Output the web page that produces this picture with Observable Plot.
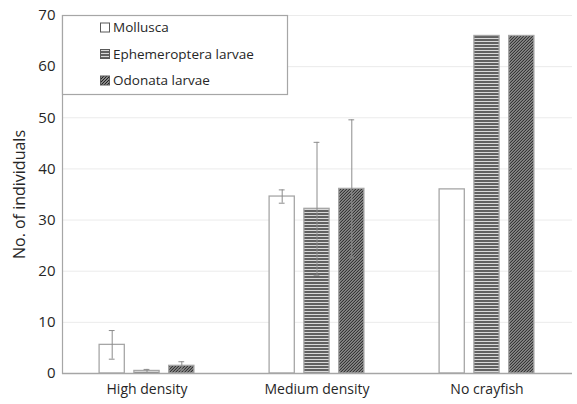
<!DOCTYPE html>
<html>
<head>
<meta charset="utf-8">
<script src="https://cdn.jsdelivr.net/npm/d3@7"></script>
<script src="https://cdn.jsdelivr.net/npm/@observablehq/plot@0.6"></script>
<style>
  html, body { margin: 0; padding: 0; background: white; }
</style>
</head>
<body>
<div id="chart"></div>
<script>
// Treatment groups along the x axis
const groups = ["High density", "Medium density", "No crayfish"];
// Invertebrate taxa (one bar per taxon within each group)
const series = ["Mollusca", "Ephemeroptera larvae", "Odonata larvae"];
// Mean number of individuals per group
const mollusca = [5.6, 34.6, 36];
const ephemeroptera = [0.5, 32.2, 66];
const odonata = [1.5, 36.1, 66];
// Error (± value); null where no error bar is drawn
const molluscaErr = [2.8, 1.3, null];
const ephemeropteraErr = [0.3, 13, null];
const odonataErr = [0.8, 13.5, null];
// y-axis tick labels
const yTicks = [0, 10, 20, 30, 40, 50, 60, 70];

const values = [mollusca, ephemeroptera, odonata];
const errors = [molluscaErr, ephemeropteraErr, odonataErr];
const rows = groups.flatMap((g, i) =>
  series.map((s, j) => ({group: g, series: s, value: values[j][i], err: errors[j][i]}))
);

const fills = ["white", "url(#fill-ephem)", "url(#fill-odon)"];
const edge = "#a6a6a6";
const errColor = "#8c8c8c";
const font = "'Open Sans', sans-serif";

// Group band layout: each group band holds three bars side by side
const width = 577, marginLeft = 62, marginRight = 5;
const padInner = 0.44, padOuter = 0.22;
const band = (width - marginLeft - marginRight) / (groups.length - padInner + 2 * padOuter) * (1 - padInner);
const barW = 25.4, barStep = 34.8, capW = 6;
const barInset = (band - barW) / 2, capInset = (band - capW) / 2;

const seriesMarks = series.flatMap((s, j) => {
  const data = rows.filter(d => d.series === s);
  const withErr = data.filter(d => d.err != null);
  const dx = (j - 1) * barStep;
  return [
    Plot.barY(data, {x: "group", y: "value", fill: "series", stroke: edge, strokeWidth: 1.3,
      insetLeft: barInset, insetRight: barInset, dx}),
    Plot.ruleX(withErr, {x: "group", y1: d => d.value - d.err, y2: d => d.value + d.err,
      stroke: errColor, strokeWidth: 1, dx}),
    Plot.tickY(withErr, {x: "group", y: d => d.value + d.err, stroke: errColor, strokeWidth: 1,
      insetLeft: capInset, insetRight: capInset, dx}),
    Plot.tickY(withErr, {x: "group", y: d => d.value - d.err, stroke: errColor, strokeWidth: 1,
      insetLeft: capInset, insetRight: capInset, dx})
  ];
});

const chart = Plot.plot({
  width,
  height: 404,
  marginLeft,
  marginRight,
  marginTop: 15,
  marginBottom: 31,
  style: {fontFamily: font, fontSize: "13px", color: "#262626", background: "white"},
  x: {domain: groups, paddingInner: padInner, paddingOuter: padOuter, label: null},
  y: {domain: [0, 70]},
  color: {domain: series, range: fills},
  marks: [
    Plot.gridY(yTicks.filter(t => t > 0), {stroke: "#ebebeb", strokeOpacity: 1, strokeWidth: 1}),
    Plot.frame({anchor: "left", stroke: edge, strokeWidth: 1.2}),
    Plot.axisY(yTicks, {tickSize: 0, tickPadding: 7, fontSize: 15, label: null}),
    Plot.axisY([], {
      tickSize: 0, fontSize: 16,
      label: "No. of individuals", labelAnchor: "center", labelArrow: "none", labelOffset: 49
    }),
    Plot.axisX({tickSize: 0, tickPadding: 11, fontSize: 14, label: null}),
    ...seriesMarks,
    Plot.ruleY([0], {stroke: edge, strokeWidth: 1.3})
  ]
});

// Fill patterns for the hatched bars
const svg = d3.select(chart);
const defs = svg.insert("defs", ":first-child");
const ph = defs.append("pattern").attr("id", "fill-ephem")
  .attr("patternUnits", "userSpaceOnUse").attr("width", 6).attr("height", 3);
ph.append("rect").attr("width", 6).attr("height", 3).attr("fill", "#d9d9d9");
ph.append("line").attr("x1", 0).attr("x2", 6).attr("y1", 1).attr("y2", 1)
  .attr("stroke", "#111").attr("stroke-width", 1.2);
const pd = defs.append("pattern").attr("id", "fill-odon")
  .attr("patternUnits", "userSpaceOnUse").attr("width", 3).attr("height", 3);
pd.append("rect").attr("width", 3).attr("height", 3).attr("fill", "#b3b3b3");
pd.append("path").attr("d", "M0,3L3,0M-1,1L1,-1M2,4L4,2")
  .attr("stroke", "#1a1a1a").attr("stroke-width", 1.1);

// Legend box in the upper-left corner of the plot area
const lg = svg.append("g").attr("font-family", font).attr("font-size", 13.5)
  .attr("text-anchor", "start");
lg.append("rect").attr("x", 62.5).attr("y", 15.5).attr("width", 225).attr("height", 79)
  .attr("fill", "white").attr("stroke", edge).attr("stroke-width", 1.2);
series.forEach((s, i) => {
  const cy = 27.5 + i * 26.5;
  lg.append("rect").attr("x", 100.5).attr("y", cy - 4.5).attr("width", 9).attr("height", 9)
    .attr("fill", fills[i]).attr("stroke", "#595959").attr("stroke-width", 1);
  lg.append("text").attr("x", 113).attr("y", cy).attr("dy", "0.35em")
    .attr("fill", "#262626").text(s);
});

document.getElementById("chart").appendChild(chart);
</script>
</body>
</html>
